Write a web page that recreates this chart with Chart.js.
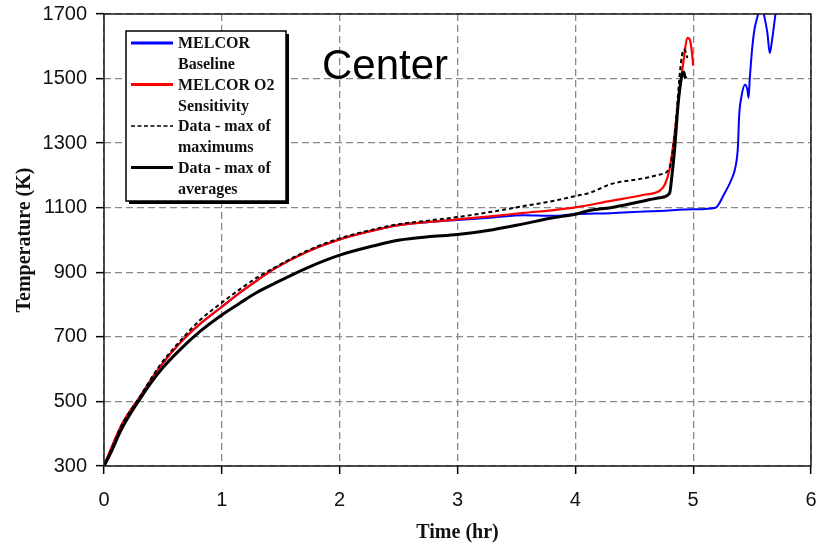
<!DOCTYPE html>
<html>
<head>
<meta charset="utf-8">
<script src="https://cdn.jsdelivr.net/npm/chart.js@4.4.0/dist/chart.umd.min.js"></script>
<style>
  html, body { margin: 0; padding: 0; background: #fff; }
  #wrap { width: 817px; height: 547px; position: relative; }
</style>
</head>
<body>
<div id="wrap"><canvas id="chart"></canvas></div>
<script>
// axis ticks
const xTicks = [0, 1, 2, 3, 4, 5, 6];
const yTicks = [300, 500, 700, 900, 1100, 1300, 1500, 1700];

// MELCOR Baseline (blue)
const baseTime = [0, 0.05, 0.15, 0.3, 0.475, 0.65, 0.815, 1.0, 1.15, 1.3, 1.44, 1.72, 2.0, 2.29, 2.5, 2.75,
  3.0, 3.3, 3.56, 3.8, 4.0, 4.3, 4.58, 4.72, 5.0, 5.19, 5.26, 5.33, 5.36, 5.38, 5.39, 5.41, 5.44, 5.46,
  5.47, 5.48, 5.5, 5.52, 5.55, 5.575, 5.6, 5.63, 5.65, 5.67, 5.7, 5.74];
const baseTemp = [300, 345, 428, 512, 607, 683, 740, 793, 836, 875, 910, 963, 1002, 1030, 1046, 1055,
  1062, 1070, 1077, 1075, 1080, 1083, 1088, 1090, 1095, 1100, 1140, 1192, 1228, 1290, 1383, 1445, 1481, 1466,
  1440, 1497, 1590, 1652, 1698, 1745, 1700, 1641, 1579, 1621, 1703, 1790];

// MELCOR O2 Sensitivity (red)
const o2Time = [0, 0.05, 0.15, 0.3, 0.475, 0.65, 0.815, 1.0, 1.15, 1.3, 1.44, 1.72, 2.0, 2.29, 2.5, 2.75,
  3.0, 3.3, 3.56, 3.8, 4.0, 4.3, 4.58, 4.72, 4.76, 4.8, 4.84, 4.875, 4.92, 4.95, 4.97, 4.99, 5.0];
const o2Temp = [300, 345, 428, 512, 607, 683, 740, 793, 836, 875, 910, 963, 1002, 1030, 1046, 1056,
  1064, 1074, 1084, 1092, 1101, 1121, 1140, 1154, 1172, 1220, 1320, 1435, 1559, 1626, 1622, 1580, 1540];

// Data - max of maximums (dashed)
const maxTime = [0, 0.05, 0.15, 0.3, 0.475, 0.645, 0.815, 1.0, 1.155, 1.3, 1.44, 1.72, 2.0, 2.29, 2.5, 2.75,
  3.0, 3.3, 3.56, 3.8, 4.0, 4.13, 4.3, 4.58, 4.72, 4.8, 4.85, 4.89, 4.92, 4.94, 4.95];
const maxTemp = [300, 340, 425, 512, 612, 687, 752, 806, 848, 884, 913, 966, 1005, 1033, 1049, 1060,
  1071, 1088, 1105, 1120, 1136, 1147, 1173, 1191, 1203, 1224, 1352, 1528, 1590, 1580, 1564];

// Data - max of averages (solid black)
const avgTime = [0, 0.05, 0.15, 0.3, 0.475, 0.65, 0.815, 1.0, 1.155, 1.3, 1.44, 1.72, 2.0, 2.29, 2.51, 2.75,
  3.0, 3.3, 3.56, 3.8, 4.0, 4.13, 4.3, 4.58, 4.72, 4.8, 4.82, 4.84, 4.876, 4.91, 4.92, 4.93, 4.94];
const avgTemp = [300, 335, 415, 505, 594, 662, 717, 768, 805, 838, 864, 913, 953, 982, 1000, 1010,
  1017, 1032, 1050, 1068, 1080, 1092, 1100, 1121, 1131, 1145, 1200, 1270, 1435, 1517, 1520, 1506, 1500];

const legendLines = [
  ["MELCOR", "Baseline"],
  ["MELCOR O2", "Sensitivity"],
  ["Data - max of", "maximums"],
  ["Data - max of", "averages"],
];

function pts(xs, ys) {
  return xs.map((x, i) => ({ x: x, y: ys[i] }));
}

const boxPlugin = {
  id: "plotBox",
  afterDraw(chart) {
    const { ctx, chartArea: a } = chart;
    ctx.save();
    // plot frame
    ctx.strokeStyle = "#1a1a1a";
    ctx.lineWidth = 1.5;
    ctx.setLineDash([]);
    ctx.strokeRect(a.left, a.top, a.right - a.left, a.bottom - a.top);

    // "Center" label
    ctx.fillStyle = "#000";
    ctx.font = "42px 'Liberation Sans', Arial, sans-serif";
    ctx.textBaseline = "alphabetic";
    ctx.textAlign = "left";
    ctx.fillText("Center", a.left + 218, a.top + 65);

    // legend box with shadow
    const lx = a.left + 22, ly = a.top + 17, lw = 160, lh = 170;
    ctx.fillStyle = "#000";
    ctx.fillRect(lx + 3, ly + 3, lw, lh);
    ctx.fillStyle = "#fff";
    ctx.fillRect(lx, ly, lw, lh);
    ctx.strokeStyle = "#000";
    ctx.lineWidth = 1.5;
    ctx.strokeRect(lx, ly, lw, lh);

    ctx.font = "bold 16px 'Liberation Serif', 'Times New Roman', serif";
    ctx.textBaseline = "middle";
    chart.data.datasets.forEach((ds, i) => {
      const y0 = ly + 12 + i * 41.5;
      const dashed = ds.borderDash && ds.borderDash.length;
      ctx.strokeStyle = ds.borderColor;
      ctx.setLineDash(dashed ? [4, 2.5] : []);
      ctx.lineWidth = dashed ? 1.5 : 3;
      ctx.beginPath();
      ctx.moveTo(lx + 5, y0);
      ctx.lineTo(lx + 47, y0);
      ctx.stroke();
      ctx.setLineDash([]);
      ctx.fillStyle = "#111";
      ctx.fillText(legendLines[i][0], lx + 52, y0 + 1);
      ctx.fillText(legendLines[i][1], lx + 52, y0 + 22);
    });
    ctx.restore();
  },
};

const tickFont = { family: "'Liberation Sans', Arial, sans-serif", size: 20 };
const titleFont = { family: "'Liberation Serif', 'Times New Roman', serif", size: 20, weight: "bold" };
const gridOpts = {
  color: "#8a8a8a",
  lineWidth: 1.3,
  tickLength: 8,
  tickColor: "#000",
  tickWidth: 1.5,
  tickBorderDash: [],
};

new Chart(document.getElementById("chart"), {
  type: "line",
  data: {
    datasets: [
      { label: "MELCOR Baseline", data: pts(baseTime, baseTemp), borderColor: "#0000ff", borderWidth: 2, order: 4 },
      { label: "MELCOR O2 Sensitivity", data: pts(o2Time, o2Temp), borderColor: "#ff0000", borderWidth: 2.2, order: 3 },
      { label: "Data - max of maximums", data: pts(maxTime, maxTemp), borderColor: "#000", borderWidth: 2, borderDash: [4, 3], order: 2 },
      { label: "Data - max of averages", data: pts(avgTime, avgTemp), borderColor: "#000", borderWidth: 3, order: 1 },
    ],
  },
  options: {
    responsive: true,
    maintainAspectRatio: false,
    animation: false,
    parsing: false,
    elements: {
      point: { radius: 0 },
      line: { cubicInterpolationMode: "monotone", fill: false },
    },
    layout: { padding: { left: 0, right: 6, top: 14, bottom: 0 } },
    plugins: {
      legend: { display: false },
      tooltip: { enabled: false },
    },
    scales: {
      x: {
        type: "linear",
        min: 0,
        max: 6,
        afterBuildTicks: (s) => { s.ticks = xTicks.map((v) => ({ value: v })); },
        afterFit: (s) => { s.height = 81; s.paddingLeft = 0; s.paddingRight = 0; },
        ticks: { font: tickFont, color: "#111", padding: 14, maxRotation: 0, callback: (v) => String(v) },
        grid: gridOpts,
        border: { display: false, dash: [7, 4] },
        title: { display: true, text: "Time (hr)", font: titleFont, color: "#111", padding: { top: 0, bottom: 2 } },
      },
      y: {
        type: "linear",
        min: 300,
        max: 1700,
        afterBuildTicks: (s) => { s.ticks = yTicks.map((v) => ({ value: v })); },
        afterFit: (s) => { s.width = 104; s.paddingTop = 0; s.paddingBottom = 0; },
        ticks: { font: tickFont, color: "#111", padding: 9, callback: (v) => String(v) },
        grid: gridOpts,
        border: { display: false, dash: [7, 4] },
        title: { display: true, text: "Temperature (K)", font: titleFont, color: "#111", padding: { top: 13, bottom: 0 } },
      },
    },
  },
  plugins: [boxPlugin],
});
</script>
</body>
</html>
